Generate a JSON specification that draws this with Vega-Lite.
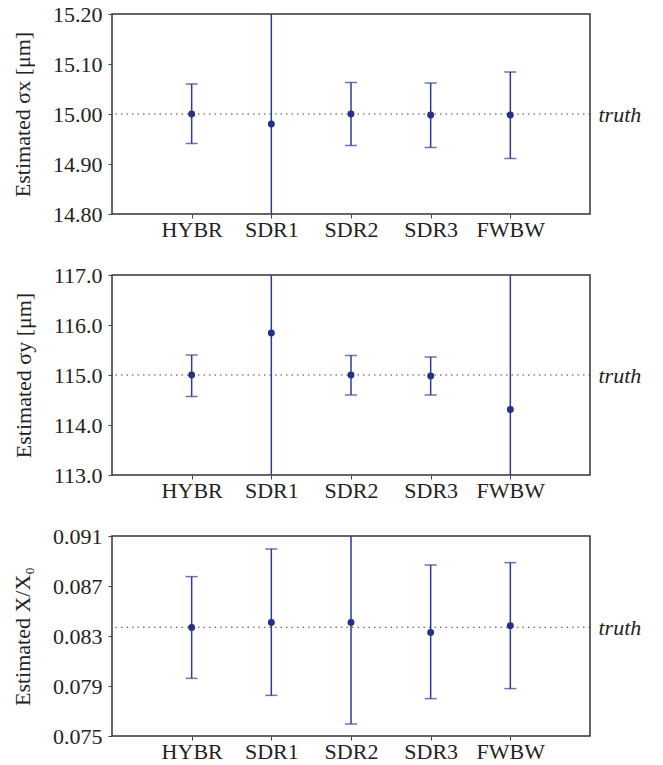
{
  "$schema": "https://vega.github.io/schema/vega-lite/v6.json",
  "background": "white",
  "padding": {"left": 10, "top": 2, "right": 5, "bottom": 0},
  "spacing": 22,
  "config": {
    "font": "Liberation Serif",
    "view": {"stroke": "#333333", "strokeWidth": 1.5},
    "axis": {
      "labelFont": "Liberation Serif",
      "titleFont": "Liberation Serif",
      "labelFontSize": 22,
      "titleFontSize": 22,
      "titleFontWeight": "normal",
      "labelColor": "#222222",
      "titleColor": "#222222",
      "tickColor": "#444444",
      "tickSize": 4,
      "domain": false,
      "grid": false,
      "labelPadding": 6
    },
    "axisX": {"labelPadding": 1}
  },
  "datasets": {
    "pts": [
      {"panel": "sx", "method": "HYBR", "value": 15.000, "lo": 14.941, "hi": 15.060},
      {"panel": "sx", "method": "SDR1", "value": 14.980, "lo": 14.630, "hi": 15.330},
      {"panel": "sx", "method": "SDR2", "value": 15.000, "lo": 14.937, "hi": 15.063},
      {"panel": "sx", "method": "SDR3", "value": 14.998, "lo": 14.933, "hi": 15.062},
      {"panel": "sx", "method": "FWBW", "value": 14.998, "lo": 14.911, "hi": 15.084},
      {"panel": "sy", "method": "HYBR", "value": 115.00, "lo": 114.57, "hi": 115.40},
      {"panel": "sy", "method": "SDR1", "value": 115.84, "lo": 112.34, "hi": 119.34},
      {"panel": "sy", "method": "SDR2", "value": 115.00, "lo": 114.60, "hi": 115.39},
      {"panel": "sy", "method": "SDR3", "value": 114.98, "lo": 114.60, "hi": 115.36},
      {"panel": "sy", "method": "FWBW", "value": 114.31, "lo": 110.81, "hi": 117.81},
      {"panel": "x0", "method": "HYBR", "value": 0.08369, "lo": 0.07961, "hi": 0.08775},
      {"panel": "x0", "method": "SDR1", "value": 0.08409, "lo": 0.07825, "hi": 0.08996},
      {"panel": "x0", "method": "SDR2", "value": 0.08409, "lo": 0.07596, "hi": 0.09222},
      {"panel": "x0", "method": "SDR3", "value": 0.08329, "lo": 0.07799, "hi": 0.08868},
      {"panel": "x0", "method": "FWBW", "value": 0.08383, "lo": 0.07879, "hi": 0.08887}
    ],
    "truth": [
      {"panel": "sx", "truth": 15.0},
      {"panel": "sy", "truth": 115.0},
      {"panel": "x0", "truth": 0.0837}
    ]
  },
  "vconcat": [
    {
      "width": 478, "height": 200,
      "data": {"name": "pts"},
      "transform": [{"filter": "datum.panel == 'sx'"}],
      "layer": [
        {
          "mark": {"type": "rule", "clip": true, "color": "#2d3a9c", "strokeWidth": 1.5},
          "encoding": {
            "x": {"field": "method", "type": "nominal", "scale": {"type": "point", "padding": 1, "domain": ["HYBR", "SDR1", "SDR2", "SDR3", "FWBW"]}, "axis": {"title": null, "labelAngle": 0}},
            "y": {"field": "lo", "type": "quantitative", "scale": {"domain": [14.8, 15.2], "nice": false, "zero": false}, "axis": {"values": [14.8, 14.9, 15.0, 15.1, 15.2], "format": ".2f", "title": "Estimated σx [μm]", "titlePadding": 18}},
            "y2": {"field": "hi"}
          }
        },
        {
          "mark": {"type": "tick", "clip": true, "orient": "horizontal", "size": 12, "thickness": 1.5, "color": "#2d3a9c"},
          "encoding": {
            "x": {"field": "method", "type": "nominal"},
            "y": {"field": "lo", "type": "quantitative", "scale": {"domain": [14.8, 15.2], "nice": false, "zero": false}, "axis": null}
          }
        },
        {
          "mark": {"type": "tick", "clip": true, "orient": "horizontal", "size": 12, "thickness": 1.5, "color": "#2d3a9c"},
          "encoding": {
            "x": {"field": "method", "type": "nominal"},
            "y": {"field": "hi", "type": "quantitative", "scale": {"domain": [14.8, 15.2], "nice": false, "zero": false}, "axis": null}
          }
        },
        {
          "mark": {"type": "point", "filled": true, "size": 48, "opacity": 1, "color": "#22308e"},
          "encoding": {
            "x": {"field": "method", "type": "nominal"},
            "y": {"field": "value", "type": "quantitative", "scale": {"domain": [14.8, 15.2], "nice": false, "zero": false}, "axis": null}
          }
        },
        {
          "data": {"name": "truth"},
          "transform": [{"filter": "datum.panel == 'sx'"}],
          "mark": {"type": "rule", "strokeDash": [1.5, 4], "color": "#444444", "strokeWidth": 1},
          "encoding": {
            "y": {"field": "truth", "type": "quantitative", "scale": {"domain": [14.8, 15.2], "nice": false, "zero": false}, "axis": {"orient": "right", "values": [15.0], "labelExpr": "'truth'", "ticks": false, "title": null, "labelFontStyle": "italic", "labelPadding": 8}}
          }
        }
      ],
      "resolve": {"axis": {"y": "independent"}}
    },
    {
      "width": 478, "height": 200,
      "data": {"name": "pts"},
      "transform": [{"filter": "datum.panel == 'sy'"}],
      "layer": [
        {
          "mark": {"type": "rule", "clip": true, "color": "#2d3a9c", "strokeWidth": 1.5},
          "encoding": {
            "x": {"field": "method", "type": "nominal", "scale": {"type": "point", "padding": 1, "domain": ["HYBR", "SDR1", "SDR2", "SDR3", "FWBW"]}, "axis": {"title": null, "labelAngle": 0}},
            "y": {"field": "lo", "type": "quantitative", "scale": {"domain": [113, 117], "nice": false, "zero": false}, "axis": {"values": [113, 114, 115, 116, 117], "format": ".1f", "title": "Estimated σy [μm]", "titlePadding": 18}},
            "y2": {"field": "hi"}
          }
        },
        {
          "mark": {"type": "tick", "clip": true, "orient": "horizontal", "size": 12, "thickness": 1.5, "color": "#2d3a9c"},
          "encoding": {
            "x": {"field": "method", "type": "nominal"},
            "y": {"field": "lo", "type": "quantitative", "scale": {"domain": [113, 117], "nice": false, "zero": false}, "axis": null}
          }
        },
        {
          "mark": {"type": "tick", "clip": true, "orient": "horizontal", "size": 12, "thickness": 1.5, "color": "#2d3a9c"},
          "encoding": {
            "x": {"field": "method", "type": "nominal"},
            "y": {"field": "hi", "type": "quantitative", "scale": {"domain": [113, 117], "nice": false, "zero": false}, "axis": null}
          }
        },
        {
          "mark": {"type": "point", "filled": true, "size": 48, "opacity": 1, "color": "#22308e"},
          "encoding": {
            "x": {"field": "method", "type": "nominal"},
            "y": {"field": "value", "type": "quantitative", "scale": {"domain": [113, 117], "nice": false, "zero": false}, "axis": null}
          }
        },
        {
          "data": {"name": "truth"},
          "transform": [{"filter": "datum.panel == 'sy'"}],
          "mark": {"type": "rule", "strokeDash": [1.5, 4], "color": "#444444", "strokeWidth": 1},
          "encoding": {
            "y": {"field": "truth", "type": "quantitative", "scale": {"domain": [113, 117], "nice": false, "zero": false}, "axis": {"orient": "right", "values": [115.0], "labelExpr": "'truth'", "ticks": false, "title": null, "labelFontStyle": "italic", "labelPadding": 8}}
          }
        }
      ],
      "resolve": {"axis": {"y": "independent"}}
    },
    {
      "width": 478, "height": 200,
      "data": {"name": "pts"},
      "transform": [{"filter": "datum.panel == 'x0'"}],
      "layer": [
        {
          "mark": {"type": "rule", "clip": true, "color": "#2d3a9c", "strokeWidth": 1.5},
          "encoding": {
            "x": {"field": "method", "type": "nominal", "scale": {"type": "point", "padding": 1, "domain": ["HYBR", "SDR1", "SDR2", "SDR3", "FWBW"]}, "axis": {"title": null, "labelAngle": 0}},
            "y": {"field": "lo", "type": "quantitative", "scale": {"domain": [0.075, 0.091], "nice": false, "zero": false}, "axis": {"values": [0.075, 0.079, 0.083, 0.087, 0.091], "format": ".3f", "title": "Estimated X/X₀", "titlePadding": 18}},
            "y2": {"field": "hi"}
          }
        },
        {
          "mark": {"type": "tick", "clip": true, "orient": "horizontal", "size": 12, "thickness": 1.5, "color": "#2d3a9c"},
          "encoding": {
            "x": {"field": "method", "type": "nominal"},
            "y": {"field": "lo", "type": "quantitative", "scale": {"domain": [0.075, 0.091], "nice": false, "zero": false}, "axis": null}
          }
        },
        {
          "mark": {"type": "tick", "clip": true, "orient": "horizontal", "size": 12, "thickness": 1.5, "color": "#2d3a9c"},
          "encoding": {
            "x": {"field": "method", "type": "nominal"},
            "y": {"field": "hi", "type": "quantitative", "scale": {"domain": [0.075, 0.091], "nice": false, "zero": false}, "axis": null}
          }
        },
        {
          "mark": {"type": "point", "filled": true, "size": 48, "opacity": 1, "color": "#22308e"},
          "encoding": {
            "x": {"field": "method", "type": "nominal"},
            "y": {"field": "value", "type": "quantitative", "scale": {"domain": [0.075, 0.091], "nice": false, "zero": false}, "axis": null}
          }
        },
        {
          "data": {"name": "truth"},
          "transform": [{"filter": "datum.panel == 'x0'"}],
          "mark": {"type": "rule", "strokeDash": [1.5, 4], "color": "#444444", "strokeWidth": 1},
          "encoding": {
            "y": {"field": "truth", "type": "quantitative", "scale": {"domain": [0.075, 0.091], "nice": false, "zero": false}, "axis": {"orient": "right", "values": [0.0837], "labelExpr": "'truth'", "ticks": false, "title": null, "labelFontStyle": "italic", "labelPadding": 8}}
          }
        }
      ],
      "resolve": {"axis": {"y": "independent"}}
    }
  ]
}
